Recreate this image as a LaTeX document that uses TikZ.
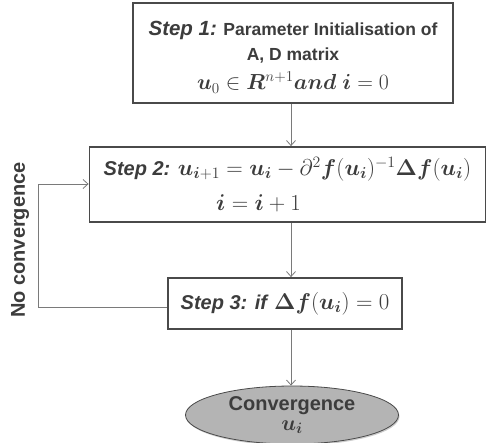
\documentclass[tikz,border=0pt]{standalone}
\usepackage{amsmath}
\usepackage{bm}
\usepackage{graphicx}
\usepackage{fontspec}
\setmainfont{Liberation Sans}
\usetikzlibrary{arrows.meta,shapes.geometric,shadows}
\definecolor{boxline}{HTML}{4A4A4A}
\definecolor{conn}{HTML}{7A7A7A}
\definecolor{txt}{HTML}{3C3C3C}
\definecolor{ellfill}{HTML}{B4B4B4}
\newcommand{\bigmath}[2][1.08]{\scalebox{#1}{\fontsize{20.74}{24}\selectfont$#2$}}
\tikzset{
  stepbox/.style={draw=boxline, line width=1.8pt, fill=white, text=txt, align=center, inner sep=0pt},
  conn/.style={draw=conn, line width=0.8pt, -{Straight Barb[length=5pt,width=9pt]}},
  connplain/.style={draw=conn, line width=0.8pt},
}
\begin{document}
\begin{tikzpicture}[x=1pt,y=-1pt]
\useasboundingbox (0,0) rectangle (486,442);
\node[stepbox, minimum width=320pt, minimum height=100pt, font={\fontsize{17.5}{25}\selectfont}] (s1) at (293,53)
  {\rule{0pt}{23pt}{\fontsize{20.5}{25}\selectfont\textbf{\textit{Step 1:}}} \textbf{Parameter Initialisation of}\\
   \textbf{A, D matrix}\\[4pt]
   \bigmath[1.05]{\bm{u}_0\in \bm{R}^{n+1}\bm{and}\ \bm{i}=0}};
\node[stepbox, minimum width=396pt, minimum height=75pt, font={\fontsize{20}{35}\selectfont}] (s2) at (287.5,184.5)
  {\textbf{\textit{Step 2:}} \bigmath[1.1]{\bm{u}_{\bm{i}+1}=\bm{u}_{\bm{i}}-\partial^2\bm{f}(\bm{u}_{\bm{i}})^{-1}\bm{\Delta f}(\bm{u}_{\bm{i}})}\\
   \bigmath[1.1]{\bm{i}=\bm{i}+1}\hspace*{58pt}};
\node[stepbox, minimum width=234pt, minimum height=51pt, font={\fontsize{20}{24}\selectfont}] (s3) at (285,303.5)
  {\textbf{\textit{Step 3: if}} \bigmath[1.1]{\bm{\Delta f}(\bm{u}_{\bm{i}})=0}};
\node[ellipse, draw=boxline, line width=0.8pt, fill=ellfill, text=txt, minimum width=213pt, minimum height=58pt, inner sep=0pt, align=center, font={\fontsize{20}{20}\selectfont}, drop shadow={shadow xshift=1pt, shadow yshift=-1.5pt, opacity=0.4}] (conv) at (292,415)
  {\textbf{Convergence}\\\bigmath[1.05]{\bm{u}_{\bm{i}}}};
\coordinate (c1) at (38,307);
\coordinate (c2) at (38,184);
\draw[conn] (s1.south -| 291,0) -- (s2.north -| 291,0);
\draw[conn] (s2.south -| 291,0) -- (s3.north -| 291,0);
\draw[conn] (s3.south -| 291,0) -- (conv.north -| 291,0);
\draw[connplain] (s3.west |- c1) -- (c1) -- (c2);
\draw[conn] (c2) -- (s2.west |- c2);
\node[rotate=90, text=txt, font=\fontsize{20}{22}\selectfont\bfseries] (nc) at (20,240) {No convergence};
\end{tikzpicture}
\end{document}
